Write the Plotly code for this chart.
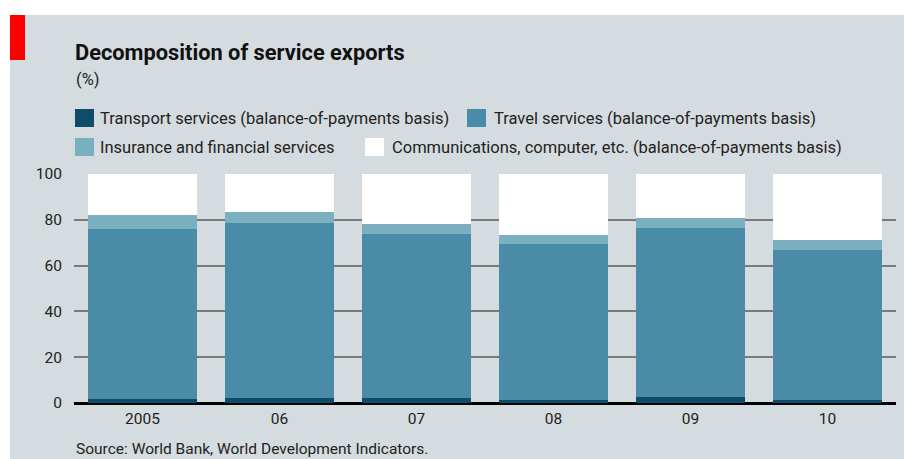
import plotly.graph_objects as go

# Shares of service exports, per cent
years = ["2005", "06", "07", "08", "09", "10"]
transport = [1.7, 2.0, 2.3, 1.4, 2.5, 1.4]
travel = [74.3, 76.6, 71.5, 67.9, 73.9, 65.4]
insurance = [6.2, 4.8, 4.2, 3.9, 4.5, 4.4]
communications = [17.8, 16.6, 22.0, 26.8, 19.1, 28.8]

series_names = [
    "Transport services (balance-of-payments basis)",
    "Travel services (balance-of-payments basis)",
    "Insurance and financial services",
    "Communications, computer, etc. (balance-of-payments basis)",
]
series_values = [transport, travel, insurance, communications]
series_colors = ["#0f4c69", "#4a8ba8", "#7ab0bf", "#ffffff"]

W, H = 904, 459
ML, MR, MT, MB = 74, 8, 174, 56
PW, PH = W - ML - MR, H - MT - MB
BG = "#d5dcdf"
FONT = "Roboto, 'Open Sans', sans-serif"


def px_x(x):
    return (x - ML) / PW


def px_y(y):
    return (H - MB - y) / PH


fig = go.Figure()
for name, vals, col in zip(series_names, series_values, series_colors):
    fig.add_trace(go.Bar(
        x=years, y=vals, name=name,
        marker=dict(color=col, line=dict(width=0)),
        showlegend=False,
    ))

shapes = [
    # grey panel
    dict(type="rect", xref="paper", yref="paper",
         x0=px_x(10), x1=px_x(W + 5), y0=px_y(15), y1=px_y(H + 5),
         fillcolor=BG, line=dict(width=0), layer="below"),
    # red tag
    dict(type="rect", xref="paper", yref="paper",
         x0=px_x(10), x1=px_x(25), y0=px_y(15), y1=px_y(60),
         fillcolor="#ff0000", line=dict(width=0), layer="below"),
]
annotations = [
    dict(text="<b>Decomposition of service exports</b>", xref="paper", yref="paper",
         x=px_x(73), y=px_y(52), xanchor="left", yanchor="middle", showarrow=False,
         font=dict(family=FONT, size=21.8, color="#111111")),
    dict(text="(%)", xref="paper", yref="paper",
         x=px_x(74), y=px_y(80), xanchor="left", yanchor="middle", showarrow=False,
         font=dict(family=FONT, size=16.5, color="#222222")),
    dict(text="Source: World Bank, World Development Indicators.", xref="paper", yref="paper",
         x=px_x(74), y=px_y(449), xanchor="left", yanchor="middle", showarrow=False,
         font=dict(family=FONT, size=15.5, color="#222222")),
]

# legend key: (square left, row centre y, text left)
legend_pos = [(75, 118, 98), (467, 118, 492), (75, 147, 98), (365, 147, 390)]
for name, col, (sx, cy, tx) in zip(series_names, series_colors, legend_pos):
    shapes.append(dict(type="rect", xref="paper", yref="paper",
                       x0=px_x(sx), x1=px_x(sx + 19), y0=px_y(cy - 9), y1=px_y(cy + 9),
                       fillcolor=col, line=dict(width=0)))
    annotations.append(dict(text=name, xref="paper", yref="paper",
                            x=px_x(tx), y=px_y(cy), xanchor="left", yanchor="middle",
                            showarrow=False,
                            font=dict(family=FONT, size=16.5, color="#222222")))

fig.update_layout(
    width=W, height=H,
    margin=dict(l=ML, r=MR, t=MT, b=MB, pad=0),
    paper_bgcolor="#ffffff", plot_bgcolor=BG,
    barmode="stack", bargap=0.2,
    shapes=shapes, annotations=annotations,
    font=dict(family=FONT, size=15, color="#222222"),
    xaxis=dict(type="category", range=[-0.5, 5.5], showgrid=False, zeroline=False,
               showline=False, ticks="outside", ticklen=1, tickcolor="rgba(0,0,0,0)",
               tickfont=dict(size=15.5, color="#222222"), fixedrange=True),
    yaxis=dict(range=[0, 100], tickvals=[0, 20, 40, 60, 80, 100], showgrid=True,
               gridcolor="#7a7a7a", gridwidth=1.5, zeroline=True, zerolinecolor="#000000",
               zerolinewidth=2.5, ticks="outside", ticklen=8, tickcolor="rgba(0,0,0,0)",
               tickfont=dict(size=15.5, color="#222222"), fixedrange=True),
)

fig.write_html("out.html")
